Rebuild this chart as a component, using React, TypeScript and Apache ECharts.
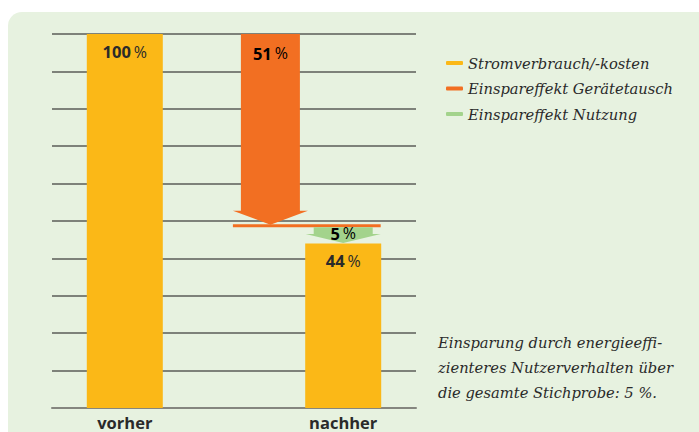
import React, { useEffect, useRef } from "react";
import * as echarts from "echarts";

// ---- data ----
const categories = ["vorher", "nachher"];
const seriesNames = ["Stromverbrauch/-kosten", "Einspareffekt Gerätetausch", "Einspareffekt Nutzung"];
const consumption = [100, 44]; // vorher, nachher (%)
const savingDevices = 51; // Einspareffekt Gerätetausch (%)
const savingUsage = 5; // Einspareffekt Nutzung (%)
const yTicks = { min: 0, max: 100, interval: 10 };
const noteLines = [
  "Einsparung durch energieeffi-",
  "zienteres Nutzerverhalten über",
  "die gesamte Stichprobe: 5 %.",
];

// ---- layout (x slots on a hidden 0..10 value axis) ----
const SLOT_VORHER = 2;
const SLOT_GERAETE = 6;
const SLOT_NACHHER = 8;
const catSlots = [SLOT_VORHER, SLOT_NACHHER];

const YELLOW = "#fbb817";
const ORANGE = "#f26f22";
const GREEN = "#a3d38c";
const TEXT = "#2a2a2a";
const SANS = "'Open Sans', 'Noto Sans', sans-serif";
const SERIF = "'DejaVu Serif', serif";
const SERIF_SIZE = 14.7;

const richPct = {
  b: { fontFamily: SANS, fontWeight: "bold", fontSize: 16.5, color: TEXT },
  s: { fontFamily: SANS, fontSize: 11, color: TEXT },
  p: { fontFamily: SANS, fontWeight: "normal", fontSize: 16, color: TEXT },
};
const pctText = (v: number) => `{b|${v}}{s| }{p|%}`;

const BODY_HALF = 29.5;
const HEAD_HALF = 37.5;

function arrowPoints(cx: number, yTop: number, yTip: number, headH: number) {
  const yHead = yTip - headH;
  return [
    [cx - BODY_HALF, yTop],
    [cx + BODY_HALF, yTop],
    [cx + BODY_HALF, yHead],
    [cx + HEAD_HALF, yHead],
    [cx, yTip],
    [cx - HEAD_HALF, yHead],
    [cx - BODY_HALF, yHead],
  ];
}

export default function App() {
  const ref = useRef<HTMLDivElement>(null);
  useEffect(() => {
    if (!ref.current) return;
    const chart = echarts.init(ref.current, null, { renderer: "svg" });
    const devicesTo = consumption[0] - savingDevices;
    const usageTo = devicesTo - savingUsage;
    chart.setOption({
      animation: false,
      backgroundColor: "transparent",
      grid: { left: 52, right: 283, top: 34, bottom: 24 },
      xAxis: {
        type: "value",
        min: 0,
        max: 10,
        interval: 1,
        axisLine: { show: true, onZero: true, lineStyle: { color: "#85867f", width: 2 } },
        axisTick: { show: false },
        splitLine: { show: false },
        axisLabel: {
          show: true,
          margin: 5,
          fontFamily: SANS,
          fontWeight: "bold",
          fontSize: 16.5,
          lineHeight: 18,
          color: TEXT,
          showMinLabel: true,
          showMaxLabel: true,
          formatter: (v: number) => {
            const i = catSlots.indexOf(Math.round(v));
            return i >= 0 ? categories[i] : "";
          },
        },
      },
      yAxis: {
        type: "value",
        min: yTicks.min,
        max: yTicks.max,
        interval: yTicks.interval,
        axisLine: { show: false },
        axisTick: { show: false },
        axisLabel: { show: false },
        splitLine: { show: true, lineStyle: { color: "#5b5c58", width: 1.5 } },
      },
      legend: {
        orient: "vertical",
        left: 441,
        top: 50,
        itemGap: 9.5,
        itemWidth: 17,
        itemHeight: 4,
        icon: "roundRect",
        textStyle: { fontFamily: SERIF, fontStyle: "italic", fontSize: SERIF_SIZE, color: TEXT, lineHeight: 16 },
        data: seriesNames,
      },
      graphic: [
        {
          type: "text",
          left: 438,
          top: 330,
          style: {
            text: noteLines.join("\n"),
            fontFamily: SERIF,
            fontStyle: "italic",
            fontSize: SERIF_SIZE,
            lineHeight: 25,
            fill: TEXT,
          },
        },
      ],
      series: [
        {
          name: seriesNames[0],
          type: "bar",
          barWidth: 76,
          itemStyle: { color: YELLOW },
          data: catSlots.map((x, i) => [x, consumption[i]]),
          label: {
            show: true,
            position: "insideTop",
            distance: 9,
            formatter: (p: any) => pctText(p.value[1]),
            rich: richPct,
          },
          z: 3,
        },
        {
          name: seriesNames[1],
          type: "custom",
          itemStyle: { color: ORANGE },
          encode: { x: 0, y: [1, 2] },
          data: [[SLOT_GERAETE, consumption[0], devicesTo, savingDevices]],
          renderItem: (params: any, api: any) => {
            const x = api.value(0);
            const top = api.coord([x, api.value(1)]);
            const tip = api.coord([x, api.value(2)]);
            const right = api.coord([SLOT_NACHHER, api.value(2)]);
            const cx = top[0];
            return {
              type: "group",
              children: [
                {
                  type: "polygon",
                  shape: { points: arrowPoints(cx, top[1], tip[1], 14) },
                  style: { fill: ORANGE },
                },
                {
                  type: "line",
                  shape: { x1: cx - HEAD_HALF, y1: tip[1] + 1, x2: right[0] + HEAD_HALF, y2: tip[1] + 1 },
                  style: { stroke: ORANGE, lineWidth: 3 },
                },
                {
                  type: "text",
                  x: cx,
                  y: top[1] + 19,
                  style: {
                    text: pctText(api.value(3)),
                    rich: richPct,
                    align: "center",
                    verticalAlign: "middle",
                  },
                },
              ],
            };
          },
          z: 4,
        },
        {
          name: seriesNames[2],
          type: "custom",
          itemStyle: { color: GREEN },
          encode: { x: 0, y: [1, 2] },
          data: [[SLOT_NACHHER, devicesTo, usageTo, savingUsage]],
          renderItem: (params: any, api: any) => {
            const x = api.value(0);
            const top = api.coord([x, api.value(1)]);
            const tip = api.coord([x, api.value(2)]);
            const cx = top[0];
            return {
              type: "group",
              children: [
                {
                  type: "polygon",
                  shape: { points: arrowPoints(cx, top[1] + 2.5, tip[1] - 0.5, 9) },
                  style: { fill: GREEN },
                },
                {
                  type: "text",
                  x: cx,
                  y: (top[1] + tip[1]) / 2 - 1,
                  style: {
                    text: pctText(api.value(3)),
                    rich: richPct,
                    align: "center",
                    verticalAlign: "middle",
                  },
                },
              ],
            };
          },
          z: 4,
        },
      ],
    });
    return () => chart.dispose();
  }, []);

  return (
    <div style={{ position: "fixed", left: 0, top: 0, width: 699, height: 432, background: "#ffffff", overflow: "hidden" }}>
      <div
        style={{
          position: "absolute",
          left: 8,
          top: 12,
          width: 720,
          height: 440,
          background: "#e7f2e0",
          borderTopLeftRadius: 14,
        }}
      />
      <div ref={ref} style={{ position: "absolute", left: 0, top: 0, width: 699, height: 432 }} />
    </div>
  );
}
